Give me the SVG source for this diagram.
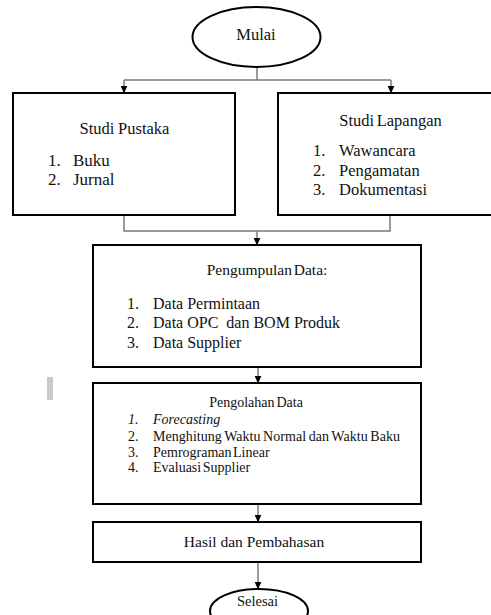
<svg xmlns="http://www.w3.org/2000/svg" width="491" height="615" viewBox="0 0 491 615">
<defs>
<marker id="ah" markerWidth="8" markerHeight="8" viewBox="0 0 8 8" refX="7.5" refY="4" orient="auto" markerUnits="userSpaceOnUse">
<path d="M0,0.5 L8,4 L0,7.5 Z" fill="#000"/>
</marker>
</defs>
<rect x="0" y="0" width="491" height="615" fill="#fff"/>
<g id="connectors" fill="none" stroke="#7a7a7a" stroke-width="1.5">
<path d="M257,67 V80 M124,80 H391"/>
<path d="M124,80 V93" marker-end="url(#ah)"/>
<path d="M391,80 V93" marker-end="url(#ah)"/>
<path d="M124,215 V231 H390 V215"/>
<path d="M257,231 V245" marker-end="url(#ah)"/>
<path d="M258,367 V383" marker-end="url(#ah)"/>
<path d="M258,504 V522" marker-end="url(#ah)"/>
<path d="M258,562 V589" marker-end="url(#ah)"/>
</g>
<g font-family="'Liberation Serif', serif" fill="#111">
<g id="mulai">
<ellipse cx="256.5" cy="37" rx="64" ry="30" fill="#fff" stroke="#000" stroke-width="2"/>
<text text-anchor="middle" x="256" y="39.5" font-size="16.5">Mulai</text>
</g>
<g id="studi-pustaka" font-size="17">
<rect x="13" y="93" width="222" height="122" fill="#fff" stroke="#000" stroke-width="2"/>
<text text-anchor="middle" x="124.5" y="133.5" font-size="16.5" word-spacing="-0.5">Studi Pustaka</text>
<text x="48" y="166">1.</text><text x="73" y="166">Buku</text>
<text x="48" y="184.5">2.</text><text x="73" y="184.5">Jurnal</text>
</g>
<g id="studi-lapangan" font-size="16.5">
<rect x="278" y="93" width="220" height="122" fill="#fff" stroke="#000" stroke-width="2"/>
<text text-anchor="middle" x="390.5" y="126" word-spacing="-1.5">Studi Lapangan</text>
<text x="313" y="156">1.</text><text x="339" y="156">Wawancara</text>
<text x="313" y="175.5">2.</text><text x="339" y="175.5">Pengamatan</text>
<text x="313" y="195">3.</text><text x="339" y="195">Dokumentasi</text>
</g>
<g id="pengumpulan-data" font-size="16">
<rect x="93" y="245" width="328" height="122" fill="#fff" stroke="#000" stroke-width="2"/>
<text text-anchor="middle" x="267" y="275" font-size="15.5" word-spacing="-2">Pengumpulan Data:</text>
<text x="127" y="308.5">1.</text><text x="153" y="308.5">Data Permintaan</text>
<text x="127" y="328">2.</text><text x="153" y="328" xml:space="preserve">Data OPC  dan BOM Produk</text>
<text x="127" y="348">3.</text><text x="153" y="348">Data Supplier</text>
</g>
<rect x="47" y="377" width="6" height="23" fill="#cacaca"/>
<g id="pengolahan-data" font-size="14">
<rect x="93" y="383" width="328" height="121" fill="#fff" stroke="#000" stroke-width="2"/>
<text text-anchor="middle" x="256" y="407" word-spacing="-1.5">Pengolahan Data</text>
<text x="128" y="423.5" font-style="italic">1.</text><text x="153" y="423.5" font-style="italic">Forecasting</text>
<text x="128" y="440.5">2.</text><text x="153" y="440.5" word-spacing="-1" textLength="247">Menghitung Waktu Normal dan Waktu Baku</text>
<text x="128" y="456.5">3.</text><text x="153" y="456.5" word-spacing="-2">Pemrograman Linear</text>
<text x="128" y="472">4.</text><text x="153" y="472" word-spacing="-2">Evaluasi Supplier</text>
</g>
<g id="hasil">
<rect x="93" y="522" width="328" height="40" fill="#fff" stroke="#000" stroke-width="2"/>
<text text-anchor="middle" x="254" y="547" font-size="15.5">Hasil dan Pembahasan</text>
</g>
<g id="selesai">
<ellipse cx="259" cy="611" rx="49" ry="22" fill="#fff" stroke="#000" stroke-width="2"/>
<text text-anchor="middle" x="257.5" y="606" font-size="14.5">Selesai</text>
</g>
</g>
</svg>
